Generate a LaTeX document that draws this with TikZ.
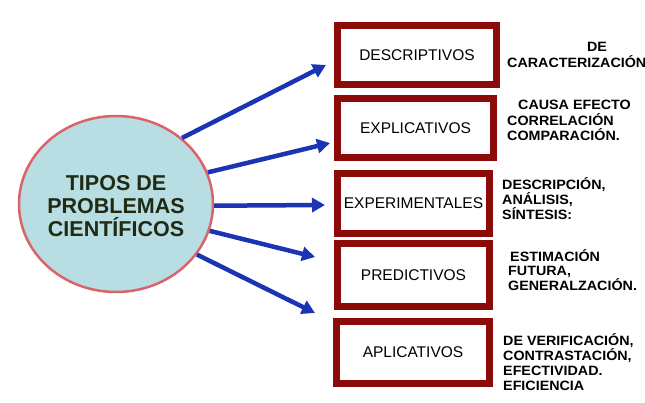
\documentclass[tikz,border=0pt]{standalone}
\usepackage{fontspec}
\setmainfont{Liberation Sans}
\newfontfamily\notefont[FakeStretch=1.06]{Liberation Sans}
\usetikzlibrary{shapes.geometric,arrows.meta}
\definecolor{frame}{HTML}{8B0A0A}
\definecolor{arrowblue}{HTML}{1A34B4}
\definecolor{bubble}{HTML}{B8DDE3}
\definecolor{bubbleline}{HTML}{D9646A}
\definecolor{titletext}{HTML}{1F2B12}
\tikzset{
  typebox/.style={draw=frame, line width=7pt, fill=white, minimum width=159pt, minimum height=59pt, inner sep=0pt, font=\fontsize{15.5}{18}\selectfont},
  note/.style={anchor=west, inner sep=0pt, align=left, font=\notefont\bfseries\fontsize{13.5}{15}\selectfont},
  link/.style={draw=arrowblue, line width=4.5pt, -{Triangle[length=13pt,width=14pt]}}
}
\begin{document}
\begin{tikzpicture}[x=1pt,y=-1pt]
\useasboundingbox (0,0) rectangle (645,403);
% central ellipse
\node[ellipse, draw=bubbleline, line width=2.5pt, fill=bubble, minimum width=194pt, minimum height=176pt, inner sep=0pt] (circ) at (116,204) {};
\node[align=center, inner sep=0pt, text=titletext, font=\bfseries\fontsize{21.5}{23}\selectfont] (title) at (116,206) {TIPOS DE\\PROBLEMAS\\CIENTÍFICOS};
% boxes
\node[typebox, minimum width=159pt] (b1) at (417,55) {DESCRIPTIVOS};
\node[typebox, minimum width=156pt] (b2) at (415.5,128) {EXPLICATIVOS};
\node[typebox, minimum width=152pt, minimum height=60pt] (b3) at (413.5,203.5) {EXPERIMENTALES};
\node[typebox, minimum width=152pt, minimum height=63pt] (b4) at (413.5,275) {PREDICTIVOS};
\node[typebox, minimum width=153pt, minimum height=62pt] (b5) at (413,352.5) {APLICATIVOS};
% arrow tips
\coordinate (t1) at (326,65);
\coordinate (t2) at (330,143);
\coordinate (t3) at (325,205);
\coordinate (t4) at (315,257);
\coordinate (t5) at (315,313);
\draw[link] (circ.45) -- (t1);
\draw[link] (circ.19) -- (t2);
\draw[link] (circ.-1) -- (t3);
\draw[link] (circ.-16) -- (t4);
\draw[link] (circ.-32) -- (t5);
% notes
\node[note, anchor=center] (n1a) at (597,47) {DE};
\node[note] (n1b) at (507,62) {CARACTERIZACIÓN};
\node[note] (n2a) at (518,105) {CAUSA EFECTO};
\node[note] (n2b) at (507,127.5) {CORRELACIÓN\\COMPARACIÓN.};
\node[note] (n3) at (502,199) {DESCRIPCIÓN,\\ANÁLISIS,\\SÍNTESIS:};
\node[note] (n4a) at (510,256) {ESTIMACIÓN};
\node[note] (n4b) at (508,278) {FUTURA,\\GENERALZACIÓN.};
\node[note] (n5) at (503,362) {DE VERIFICACIÓN,\\CONTRASTACIÓN,\\EFECTIVIDAD.\\EFICIENCIA};
\end{tikzpicture}
\end{document}
